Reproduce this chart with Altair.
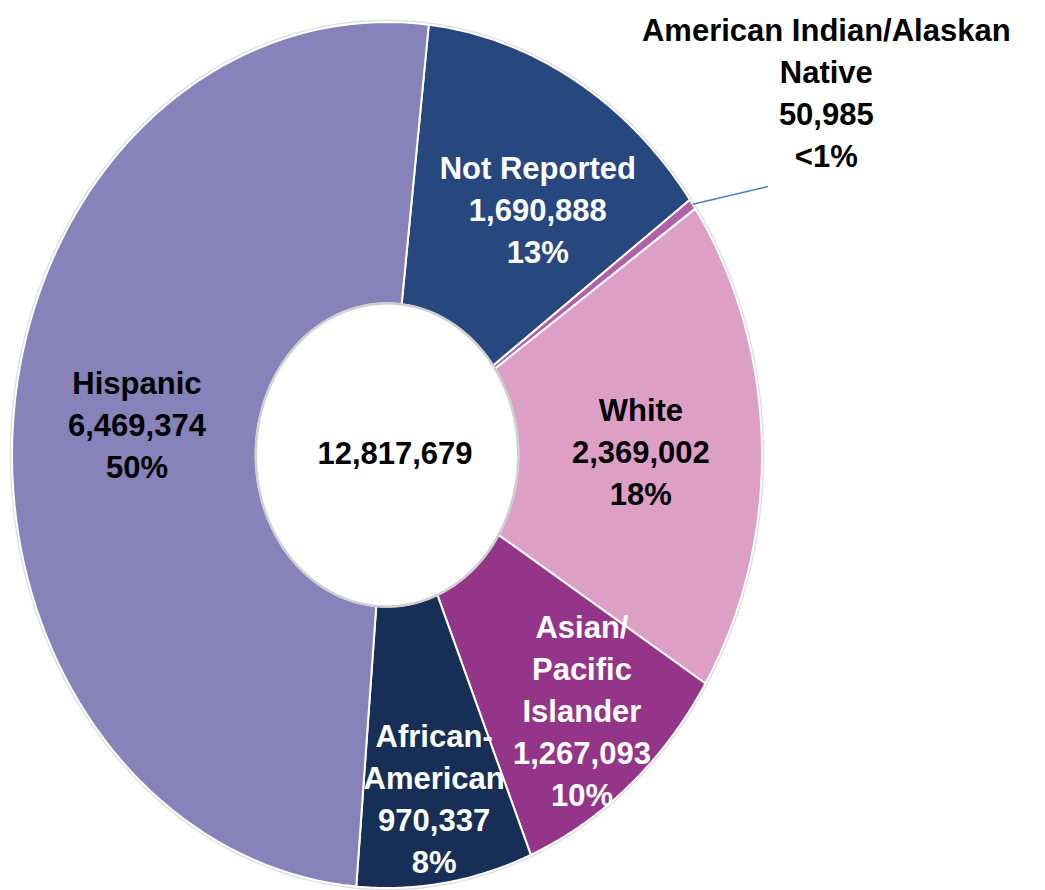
import altair as alt
import pandas as pd

# ---------------- data ----------------
categories = ["Not Reported", "American Indian/Alaskan Native", "White",
              "Asian/Pacific Islander", "African-American", "Hispanic"]
label_names = ["Not Reported", "American Indian/Alaskan\nNative", "White",
               "Asian/\nPacific\nIslander", "African-\nAmerican", "Hispanic"]
values = [1690888, 50985, 2369002, 1267093, 970337, 6469374]
slice_colors = ["#27477F", "#B260AA", "#DE9FC7", "#95358A", "#172F57", "#8782BA"]
text_colors = ["white", "black", "black", "white", "white", "black"]

# ---------------- layout ----------------
W, H = 1045, 890
CX, CY = 387, 435          # ellipse centre (y measured upward)
RX, RY = 375, 433          # outer radii (px)
RIN = 0.35                 # inner radius fraction
START = 6.4                # start angle, degrees clockwise from 12 o'clock
N = 90                     # points per arc edge
LH = 42                    # label line height
label_r = [0.69, 1.437, 0.677, 0.79, 0.81, 0.67]
label_dt = [5.5, 0.0, 1.3, -0.8, 0.0, 0.0]
FONT = "Liberation Sans, Arial, sans-serif"
FS = 31

total = sum(values)


def pct_text(v):
    p = v / total * 100
    return "<1%" if p < 1 else f"{round(p):d}%"


slices = pd.DataFrame({"category": categories, "value": values,
                       "idx": list(range(len(values)))})
labels = pd.DataFrame({
    "category": categories,
    "value": values,
    "idx": list(range(len(values))),
    "text": [f"{n}\n{v:,}\n{pct_text(v)}" for n, v in zip(label_names, values)],
    "tcolor": text_colors,
    "lr": label_r,
    "dt": label_dt,
})


def X(field="x"):
    return alt.X(f"{field}:Q", scale=alt.Scale(domain=[0, W], nice=False, zero=False), axis=None)


def Y(field="y"):
    return alt.Y(f"{field}:Q", scale=alt.Scale(domain=[0, H], nice=False, zero=False), axis=None)


def cumulative(chart):
    return (chart
            .transform_joinaggregate(total="sum(value)")
            .transform_window(cum="sum(value)", sort=[alt.SortField("idx")], frame=[None, 0]))


# ---------------- slices as filled polygons ----------------
slice_chart = (
    cumulative(alt.Chart(slices))
    .transform_calculate(
        a0=f"({START} + 360*(datum.cum - datum.value)/datum.total)*PI/180",
        a1=f"({START} + 360*datum.cum/datum.total)*PI/180",
    )
    .transform_calculate(k=f"sequence(0, {2 * N + 3})")
    .transform_flatten(["k"])
    .transform_calculate(
        t=(f"datum.k <= {N} ? datum.a0 + (datum.a1 - datum.a0)*datum.k/{N} : "
           f"(datum.k <= {2 * N + 1} ? datum.a1 - (datum.a1 - datum.a0)*(datum.k - {N + 1})/{N} : datum.a0)"),
        r=f"(datum.k <= {N} || datum.k > {2 * N + 1}) ? 1 : {RIN}",
    )
    .transform_calculate(
        x=f"{CX} + datum.r*{RX}*sin(datum.t)",
        y=f"{CY} + datum.r*{RY}*cos(datum.t)",
    )
    .mark_line(filled=True, stroke="white", strokeWidth=2, strokeJoin="miter")
    .encode(
        x=X(), y=Y(),
        order=alt.Order("k:Q"),
        detail="category:N",
        color=alt.Color("category:N", scale=alt.Scale(domain=categories, range=slice_colors), legend=None),
    )
)

# ---------------- rings (hole shadow, outer edge) ----------------
ring_src = alt.sequence(0, 362, as_="deg")
hole_ring = (
    alt.Chart(ring_src)
    .transform_calculate(
        x=f"{CX} + {RIN}*{RX}*sin(datum.deg*PI/180)",
        y=f"{CY} + {RIN}*{RY}*cos(datum.deg*PI/180)",
    )
    .mark_line(color="#cfcfcf", strokeWidth=2.5)
    .encode(x=X(), y=Y(), order="deg:Q")
)
outer_ring = (
    alt.Chart(ring_src)
    .transform_calculate(
        x=f"{CX} + 1.004*{RX}*sin(datum.deg*PI/180)",
        y=f"{CY} + 1.004*{RY}*cos(datum.deg*PI/180)",
    )
    .mark_line(color="#dcdcdc", strokeWidth=1.2)
    .encode(x=X(), y=Y(), order="deg:Q")
)

# ---------------- labels ----------------
label_base = (
    cumulative(alt.Chart(labels))
    .transform_calculate(
        mid=f"({START} + 360*(datum.cum - datum.value/2)/datum.total + datum.dt)*PI/180",
        nl="length(split(datum.text, '\\n'))",
    )
)
label_chart = (
    label_base
    .transform_calculate(
        x=f"{CX} + datum.lr*{RX}*sin(datum.mid)",
        y=f"{CY} + datum.lr*{RY}*cos(datum.mid) + (datum.nl - 1)/2*{LH}",
    )
    .mark_text(font=FONT, fontSize=FS, fontWeight="bold", lineBreak="\n", lineHeight=LH,
               align="center", baseline="middle")
    .encode(x=X(), y=Y(), text="text:N", color=alt.Color("tcolor:N", scale=None))
)

leader = (
    label_base
    .transform_filter(alt.datum.lr > 1)
    .transform_calculate(
        x=f"{CX} + {RX}*sin(datum.mid)",
        y=f"{CY} + {RY}*cos(datum.mid)",
        x2=f"{CX} + 1.19*{RX}*sin(datum.mid + 4*PI/180)",
        y2=f"{CY} + 1.19*{RY}*cos(datum.mid + 4*PI/180)",
    )
    .mark_rule(color="#4A7EBB", strokeWidth=1.5)
    .encode(x=X(), y=Y(), x2="x2:Q", y2="y2:Q")
)

center_text = (
    alt.Chart(pd.DataFrame({"value": values}))
    .transform_aggregate(total="sum(value)")
    .transform_calculate(
        label="format(datum.total, ',')",
        x=f"{CX} + 8",
        y=f"{CY}",
    )
    .mark_text(font=FONT, fontSize=FS, fontWeight="bold", align="center", baseline="middle", color="black")
    .encode(x=X(), y=Y(), text="label:N")
)

chart = (
    alt.layer(slice_chart, outer_ring, hole_ring, leader, label_chart, center_text)
    .properties(width=W, height=H, padding=0, autosize="none", background="white")
    .configure_view(stroke=None)
)

chart.save("out.html", embed_options={"renderer": "svg", "actions": False})
